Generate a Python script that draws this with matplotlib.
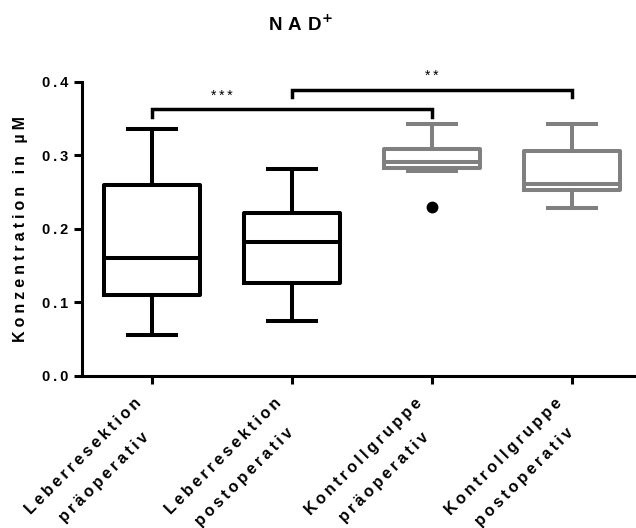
import matplotlib
matplotlib.use("Agg")
import matplotlib.pyplot as plt
from matplotlib.transforms import ScaledTranslation

# values
groups = ["Leberresektion\npräoperativ", "Leberresektion\npostoperativ",
          "Kontrollgruppe\npräoperativ", "Kontrollgruppe\npostoperativ"]
whis_lo = [0.055, 0.074, 0.278, 0.228]
q1 = [0.110, 0.126, 0.283, 0.252]
median = [0.160, 0.182, 0.290, 0.261]
q3 = [0.259, 0.222, 0.309, 0.305]
whis_hi = [0.335, 0.281, 0.342, 0.342]
fliers = [[], [], [0.230], []]
box_colors = ["black", "black", "#808080", "#808080"]

# significance brackets: (left group, right group, height, label, label x)
brackets = [(1, 3, 0.362, "***", 1.5), (2, 4, 0.389, "**", 3.0)]

FAM = ["Liberation Sans", "DejaVu Sans"]


def spaced(s, sp="\u2009"):
    return "\n".join(sp.join(line) for line in s.split("\n"))


fig = plt.figure(figsize=(6.36, 5.28), dpi=100)
ax = fig.add_axes([0.129, 0.288, 0.871, 0.5576])

for i in range(4):
    st = [dict(med=median[i], q1=q1[i], q3=q3[i], whislo=whis_lo[i],
               whishi=whis_hi[i], fliers=fliers[i])]
    c = box_colors[i]
    lw = 2.9
    ax.bxp(st, positions=[i + 1], widths=0.68, showfliers=True,
           boxprops=dict(color=c, linewidth=lw),
           medianprops=dict(color=c, linewidth=lw),
           whiskerprops=dict(color=c, linewidth=lw),
           capprops=dict(color=c, linewidth=lw),
           capwidths=0.34,
           flierprops=dict(marker="o", markerfacecolor="black",
                           markeredgecolor="black", markersize=7.5))

for a, b, h, lab, lx in brackets:
    ax.plot([a, a, b, b], [h - 0.010, h, h, h - 0.010], color="black",
            linewidth=2.5, clip_on=False, solid_joinstyle="miter")
    ax.text(lx, h + 0.009, spaced(lab), ha="center", va="bottom",
            fontsize=10, family=FAM, clip_on=False)

ax.set_xlim(0.5, 4.457)
ax.set_ylim(0, 0.4)
ax.set_yticks([0.0, 0.1, 0.2, 0.3, 0.4])
ax.set_yticklabels([spaced(f"{v:.1f}") for v in [0.0, 0.1, 0.2, 0.3, 0.4]],
                   fontsize=10.5, fontweight="bold", family=FAM)
ax.set_xticks([1, 2, 3, 4])
ax.set_xticklabels([])

# category labels drawn as rotated texts below each tick
off = ax.get_xaxis_transform() + ScaledTranslation(-13 / 72, -14 / 72,
                                                   fig.dpi_scale_trans)
for i, g in enumerate(groups):
    ax.text(i + 1, 0, spaced(g), transform=off, rotation=45, ha="right",
            va="top", rotation_mode="anchor", multialignment="center",
            linespacing=2.2, fontsize=11.5, fontweight="bold", family=FAM,
            clip_on=False)

for side in ["top", "right"]:
    ax.spines[side].set_visible(False)
for side in ["left", "bottom"]:
    ax.spines[side].set_linewidth(2.2)
ax.tick_params(direction="out", length=6, width=2.2, pad=4)

ax.set_ylabel(spaced("Konzentration in µM", "\u2005"), fontsize=11.5,
              fontweight="bold", family=FAM, labelpad=10)
fig.text(0.472, 0.952, spaced("NAD", "\u2004") + r"$^{\mathbf{+}}$",
         ha="center", va="center", fontsize=13.5, fontweight="bold",
         family=FAM)

fig.savefig("out.png", dpi=100)
plt.close(fig)
